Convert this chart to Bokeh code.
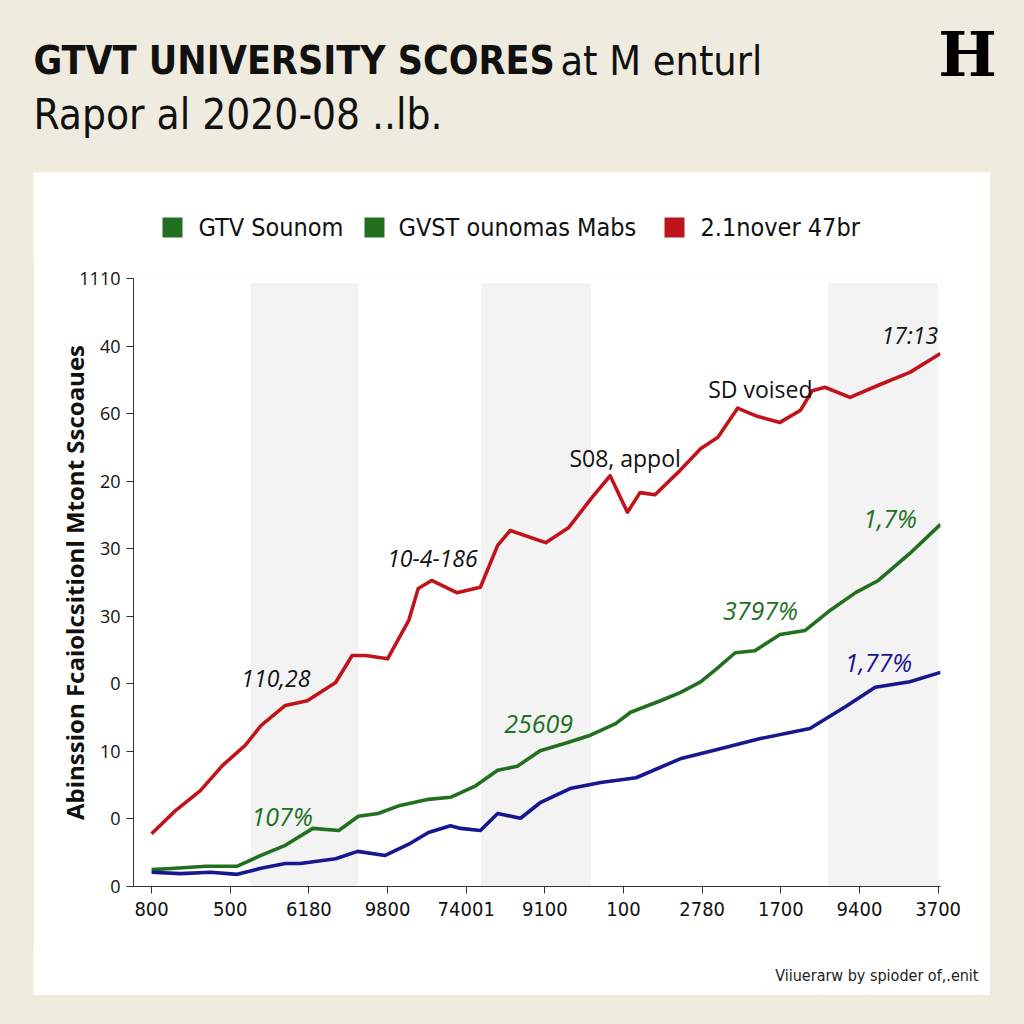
from bokeh.plotting import figure
from bokeh.models import (Range1d, FixedTicker, Label)
from bokeh.layouts import column
from bokeh.core.properties import value
from bokeh.embed import file_html
from bokeh.resources import INLINE

# ---------------- data ----------------
x_tick_labels = ["800", "500", "6180", "9800", "74001", "9100", "100", "2780", "1700", "9400", "3700"]
y_tick_labels = ["0", "0", "10", "0", "30", "30", "20", "60", "40", "1110"]

red_x = [0.0, 0.30, 0.62, 0.90, 1.19, 1.39, 1.70, 1.98, 2.34, 2.55, 2.72, 3.00, 3.27, 3.39, 3.56, 3.88,
         4.18, 4.40, 4.56, 5.01, 5.30, 5.60, 5.83, 6.05, 6.21, 6.40, 6.72, 6.98, 7.20, 7.45, 7.70, 7.99,
         8.25, 8.40, 8.56, 8.88, 9.24, 9.64, 10.03]
red_y = [0.78, 1.12, 1.42, 1.79, 2.09, 2.38, 2.68, 2.75, 3.02, 3.42, 3.42, 3.37, 3.94, 4.41, 4.53, 4.35,
         4.43, 5.05, 5.27, 5.09, 5.31, 5.76, 6.08, 5.54, 5.83, 5.80, 6.16, 6.48, 6.65, 7.08, 6.96, 6.87,
         7.05, 7.34, 7.39, 7.24, 7.42, 7.61, 7.89]

green_x = [0.0, 0.30, 0.69, 1.09, 1.39, 1.70, 2.05, 2.38, 2.63, 2.88, 3.16, 3.52, 3.80, 4.12, 4.40, 4.65,
           4.94, 5.26, 5.58, 5.90, 6.09, 6.47, 6.72, 6.98, 7.19, 7.42, 7.67, 7.99, 8.31, 8.63, 8.95, 9.24,
           9.64, 10.03]
green_y = [0.25, 0.27, 0.30, 0.30, 0.46, 0.61, 0.86, 0.83, 1.04, 1.08, 1.20, 1.29, 1.32, 1.49, 1.72, 1.78,
           2.01, 2.12, 2.24, 2.41, 2.58, 2.75, 2.87, 3.03, 3.23, 3.46, 3.49, 3.73, 3.79, 4.09, 4.35, 4.53,
           4.93, 5.36]

blue_x = [0.0, 0.37, 0.75, 1.09, 1.39, 1.70, 1.89, 2.34, 2.62, 2.97, 3.29, 3.52, 3.80, 3.93, 4.18, 4.40,
          4.69, 4.94, 5.32, 5.71, 6.16, 6.72, 7.23, 7.74, 8.37, 8.82, 9.20, 9.64, 10.03]
blue_y = [0.21, 0.19, 0.21, 0.18, 0.27, 0.34, 0.34, 0.41, 0.52, 0.46, 0.64, 0.80, 0.90, 0.86, 0.83, 1.08,
          1.01, 1.24, 1.45, 1.54, 1.61, 1.89, 2.04, 2.19, 2.34, 2.66, 2.95, 3.03, 3.17]

band_left = [1.26, 4.19, 8.60]
band_right = [2.63, 5.59, 10.0]
band_top = [8.93, 8.93, 8.93]

legend_labels = ["GTV Sounom", "GVST ounomas Mabs", "2.1nover 47br"]

black_notes = ["110,28", "10-4-186", "S08, appol", "SD voised", "17:13"]
black_x = [1.58, 3.57, 6.02, 7.74, 9.64]
black_y = [3.08, 4.86, 6.35, 7.36, 8.16]
black_style = ["italic", "italic", "normal", "normal", "italic"]

green_notes = ["107%", "25609", "3797%", "1,7%"]
green_nx = [1.66, 4.92, 7.74, 9.39]
green_ny = [1.05, 2.40, 4.09, 5.45]

blue_notes = ["1,77%"]
blue_nx = [9.24]
blue_ny = [3.32]

# ---------------- style ----------------
BEIGE = "#f0ebdf"
RED = "#c0141c"
GREEN = "#22701f"
BLUE = "#17178f"
INK = "#111111"
COND = "'DejaVu Sans Condensed', Roboto, sans-serif"


def blank_fig(w, h, bg, **kw):
    f = figure(width=w, height=h, x_range=Range1d(0, w), y_range=Range1d(0, h),
               x_axis_type=None, y_axis_type=None, toolbar_location=None, output_backend="svg",
               min_border=0, min_border_left=0, min_border_right=0, min_border_top=0,
               min_border_bottom=0, outline_line_color=None, background_fill_color=bg,
               border_fill_color=bg, **kw)
    f.frame_align = False
    return f


# ---------------- title figure ----------------
tf = blank_fig(1024, 172, BEIGE)
tf.add_layout(Label(x=33, y=112, x_units="screen", y_units="screen", text="GTVT UNIVERSITY  SCORES",
                    text_font=COND, text_font_style="bold", text_font_size="39px",
                    text_color=INK, text_baseline="middle"))
tf.add_layout(Label(x=560, y=112, x_units="screen", y_units="screen", text="at M enturl",
                    text_font=COND, text_font_size="41px",
                    text_color=INK, text_baseline="middle"))
tf.add_layout(Label(x=33, y=58, x_units="screen", y_units="screen", text="Rapor al 2020-08 ..lb.",
                    text_font=COND, text_font_size="42px",
                    text_color=INK, text_baseline="middle"))
tf.add_layout(Label(x=967, y=118, x_units="screen", y_units="screen", text="H",
                    text_font="DejaVu Serif", text_font_style="bold", text_font_size="62px",
                    text_color="#000000", text_baseline="middle", text_align="center"))

# ---------------- legend strip (top of white panel) ----------------
lf = blank_fig(957, 87, "white", margin=(0, 0, 0, 33))
leg_colors = [GREEN, GREEN, RED]
key_x = [139, 341, 641]
text_x = [165, 365, 667]
key_y = [32, 32, 32]
lf.rect(x=key_x, y=key_y, width=20, height=20, fill_color=leg_colors, line_color=None)
lf.text(x=text_x, y=key_y, text=legend_labels, text_font=value("DejaVu Sans Condensed"),
        text_font_size="25px", text_color=INK, text_baseline="middle", text_align="left")

# ---------------- main figure ----------------
p = figure(width=957, height=688, x_range=Range1d(-0.23, 10.03), y_range=Range1d(0, 9),
           toolbar_location=None, output_backend="svg",
           min_border_left=100, min_border_right=50, min_border_top=20, min_border_bottom=60,
           background_fill_color="white", border_fill_color="white", outline_line_color=None,
           margin=(-1, 0, 0, 33))
p.frame_align = False
p.grid.visible = False

p.quad(left=band_left, right=band_right, bottom=[0, 0, 0], top=band_top,
       fill_color="#f3f3f3", line_color=None)

p.line(red_x, red_y, line_color=RED, line_width=3.6, line_join="round")
p.line(green_x, green_y, line_color=GREEN, line_width=3.6, line_join="round")
p.line(blue_x, blue_y, line_color=BLUE, line_width=3.6, line_join="round")

p.text(x=black_x, y=black_y, text=black_notes, text_color=INK, text_font=value("Open Sans"),
       text_font_size="23px", text_font_style=black_style, text_align="center", text_baseline="middle")
p.text(x=green_nx, y=green_ny, text=green_notes, text_color=GREEN, text_font=value("Open Sans"),
       text_font_size="25px", text_font_style="italic", text_align="center", text_baseline="middle")
p.text(x=blue_nx, y=blue_ny, text=blue_notes, text_color=BLUE, text_font=value("Open Sans"),
       text_font_size="25px", text_font_style="italic", text_align="center", text_baseline="middle")

# axes
p.xaxis.ticker = FixedTicker(ticks=list(range(len(x_tick_labels))))
p.xaxis.major_label_overrides = {i: s for i, s in enumerate(x_tick_labels)}
p.yaxis.ticker = FixedTicker(ticks=list(range(len(y_tick_labels))))
p.yaxis.major_label_overrides = {i: s for i, s in enumerate(y_tick_labels)}
for ax in (p.xaxis, p.yaxis):
    ax.axis_line_color = "#333333"
    ax.major_tick_line_color = "#333333"
    ax.major_tick_out = 7
    ax.major_tick_in = 0
    ax.minor_tick_line_color = None
    ax.major_label_text_color = INK
p.xaxis.major_label_text_font = COND
p.xaxis.major_label_text_font_size = "20px"
p.xaxis.major_label_standoff = 8
p.yaxis.major_label_text_font = "Open Sans"
p.yaxis.major_label_text_font_size = "18px"
p.yaxis.major_label_standoff = 6
p.yaxis.axis_label = "Abinssion Fcaiolcsitionl Mtont Sscoaues"
p.yaxis.axis_label_text_font = "Open Sans"
p.yaxis.axis_label_text_font_style = "bold"
p.yaxis.axis_label_text_font_size = "24px"
p.yaxis.axis_label_text_color = INK
p.yaxis.axis_label_standoff = -15

# ---------------- footer strip (bottom of white panel) ----------------
ff = blank_fig(957, 50, "white", margin=(-1, 0, 29, 33))
ff.add_layout(Label(x=945, y=20, x_units="screen", y_units="screen",
                    text="Viiuerarw by spioder of,.enit", text_font=COND,
                    text_font_size="16px", text_color="#222222", text_align="right",
                    text_baseline="middle"))

layout = column(tf, lf, p, ff, styles={"background-color": BEIGE}, spacing=0)
open("out.html", "w").write(file_html(layout, INLINE))
